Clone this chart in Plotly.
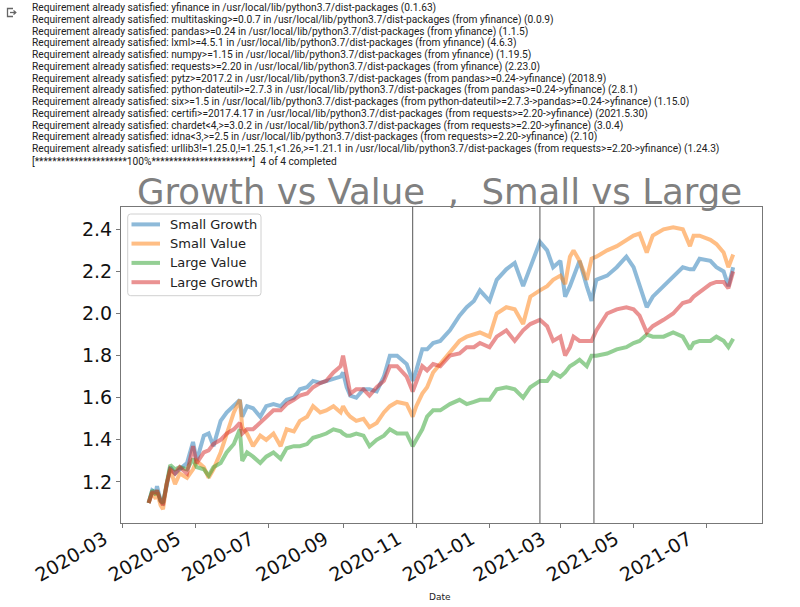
import plotly.graph_objects as go

# ---------------- data ----------------
dates = ["2020-03-23","2020-03-26","2020-03-29","2020-03-30","2020-04-02","2020-04-04","2020-04-07","2020-04-10","2020-04-14","2020-04-18",
         "2020-04-24","2020-04-29","2020-05-02","2020-05-08","2020-05-12","2020-05-16","2020-05-22","2020-05-27","2020-06-02","2020-06-07",
         "2020-06-09","2020-06-13","2020-06-18","2020-06-24","2020-06-29","2020-07-05","2020-07-11","2020-07-16","2020-07-22","2020-07-27",
         "2020-08-02","2020-08-07","2020-08-13","2020-08-18","2020-08-24","2020-08-30","2020-09-01","2020-09-04","2020-09-07","2020-09-12",
         "2020-09-18","2020-09-23","2020-09-29","2020-10-05","2020-10-10","2020-10-16","2020-10-24","2020-10-29","2020-11-01","2020-11-06",
         "2020-11-10","2020-11-15","2020-11-21","2020-11-29","2020-12-07","2020-12-13","2020-12-19","2020-12-24","2021-01-01","2021-01-07",
         "2021-01-15","2021-01-22","2021-01-29","2021-02-04","2021-02-12","2021-02-18","2021-02-23","2021-03-01","2021-03-05","2021-03-09",
         "2021-03-12","2021-03-17","2021-03-23","2021-03-27","2021-03-31","2021-04-09","2021-04-17","2021-04-25","2021-05-01","2021-05-06",
         "2021-05-12","2021-05-17","2021-05-26","2021-06-03","2021-06-11","2021-06-17","2021-06-20","2021-06-25","2021-07-04","2021-07-09",
         "2021-07-15","2021-07-19","2021-07-23"]

small_growth = [1.10,1.16,1.15,1.18,1.11,1.10,1.18,1.27,1.24,1.26,
                1.29,1.39,1.30,1.42,1.43,1.37,1.49,1.53,1.56,1.59,
                1.51,1.56,1.55,1.51,1.56,1.57,1.56,1.59,1.60,1.64,
                1.65,1.68,1.67,1.68,1.69,1.70,1.72,1.65,1.61,1.60,
                1.64,1.64,1.63,1.70,1.80,1.80,1.76,1.68,1.73,1.83,
                1.83,1.86,1.87,1.92,1.99,2.03,2.06,2.11,2.06,2.16,
                2.21,2.24,2.13,2.22,2.34,2.30,2.22,2.25,2.08,2.13,
                2.18,2.25,2.13,2.06,2.16,2.18,2.22,2.27,2.22,2.13,
                2.03,2.08,2.13,2.18,2.22,2.21,2.21,2.26,2.25,2.22,
                2.20,2.13,2.22]

small_value = [1.10,1.15,1.12,1.15,1.09,1.07,1.19,1.26,1.19,1.24,
               1.22,1.26,1.30,1.27,1.22,1.26,1.34,1.43,1.53,1.59,
               1.46,1.43,1.37,1.42,1.40,1.43,1.37,1.45,1.44,1.49,
               1.51,1.56,1.53,1.54,1.56,1.53,1.56,1.53,1.51,1.49,
               1.50,1.46,1.48,1.53,1.56,1.58,1.57,1.51,1.56,1.62,
               1.65,1.72,1.76,1.81,1.87,1.89,1.90,1.91,1.89,2.00,
               2.03,2.02,1.95,2.08,2.11,2.13,2.16,2.18,2.14,2.27,
               2.30,2.25,2.16,2.26,2.27,2.30,2.32,2.35,2.37,2.38,
               2.29,2.37,2.40,2.41,2.40,2.32,2.37,2.37,2.35,2.33,
               2.29,2.22,2.28]

large_value = [1.10,1.16,1.14,1.16,1.11,1.10,1.19,1.28,1.26,1.27,
               1.26,1.31,1.27,1.26,1.23,1.27,1.29,1.34,1.38,1.45,
               1.30,1.34,1.32,1.29,1.32,1.34,1.31,1.36,1.37,1.37,
               1.38,1.41,1.42,1.43,1.45,1.44,1.43,1.42,1.42,1.43,
               1.42,1.37,1.40,1.42,1.45,1.43,1.43,1.37,1.40,1.45,
               1.51,1.54,1.54,1.57,1.59,1.57,1.58,1.59,1.59,1.64,
               1.65,1.64,1.60,1.65,1.68,1.68,1.72,1.70,1.72,1.75,
               1.76,1.78,1.75,1.80,1.80,1.81,1.83,1.84,1.86,1.87,
               1.90,1.89,1.89,1.91,1.89,1.83,1.86,1.87,1.87,1.89,
               1.87,1.84,1.88]

large_growth = [1.10,1.15,1.15,1.16,1.11,1.09,1.19,1.26,1.24,1.27,
                1.24,1.37,1.29,1.34,1.35,1.38,1.40,1.43,1.45,1.48,
                1.43,1.45,1.45,1.48,1.51,1.54,1.54,1.57,1.59,1.61,
                1.62,1.65,1.67,1.68,1.72,1.75,1.80,1.70,1.62,1.64,
                1.64,1.61,1.65,1.68,1.75,1.75,1.70,1.63,1.68,1.75,
                1.73,1.76,1.75,1.80,1.81,1.84,1.84,1.86,1.84,1.89,
                1.92,1.87,1.92,1.95,1.97,1.94,1.87,1.89,1.80,1.84,
                1.89,1.87,1.87,1.87,1.92,2.00,2.02,2.03,2.02,1.99,
                1.91,1.94,1.97,2.00,2.05,2.06,2.08,2.10,2.14,2.15,
                2.15,2.12,2.20]

series_names = ["Small Growth", "Small Value", "Large Value", "Large Growth"]
series_colors = ["#1f77b4", "#ff7f0e", "#2ca02c", "#d62728"]
event_dates = ["2020-10-29", "2021-02-12", "2021-03-29"]

title_text = "Growth vs Value\u00a0\u00a0,\u00a0\u00a0Small vs Large"
xaxis_label = "Date"

pip_lines = [
    "Requirement already satisfied: yfinance in /usr/local/lib/python3.7/dist-packages (0.1.63)",
    "Requirement already satisfied: multitasking>=0.0.7 in /usr/local/lib/python3.7/dist-packages (from yfinance) (0.0.9)",
    "Requirement already satisfied: pandas>=0.24 in /usr/local/lib/python3.7/dist-packages (from yfinance) (1.1.5)",
    "Requirement already satisfied: lxml>=4.5.1 in /usr/local/lib/python3.7/dist-packages (from yfinance) (4.6.3)",
    "Requirement already satisfied: numpy>=1.15 in /usr/local/lib/python3.7/dist-packages (from yfinance) (1.19.5)",
    "Requirement already satisfied: requests>=2.20 in /usr/local/lib/python3.7/dist-packages (from yfinance) (2.23.0)",
    "Requirement already satisfied: pytz>=2017.2 in /usr/local/lib/python3.7/dist-packages (from pandas>=0.24->yfinance) (2018.9)",
    "Requirement already satisfied: python-dateutil>=2.7.3 in /usr/local/lib/python3.7/dist-packages (from pandas>=0.24->yfinance) (2.8.1)",
    "Requirement already satisfied: six>=1.5 in /usr/local/lib/python3.7/dist-packages (from python-dateutil>=2.7.3->pandas>=0.24->yfinance) (1.15.0)",
    "Requirement already satisfied: certifi>=2017.4.17 in /usr/local/lib/python3.7/dist-packages (from requests>=2.20->yfinance) (2021.5.30)",
    "Requirement already satisfied: chardet<4,>=3.0.2 in /usr/local/lib/python3.7/dist-packages (from requests>=2.20->yfinance) (3.0.4)",
    "Requirement already satisfied: idna<3,>=2.5 in /usr/local/lib/python3.7/dist-packages (from requests>=2.20->yfinance) (2.10)",
    "Requirement already satisfied: urllib3!=1.25.0,!=1.25.1,<1.26,>=1.21.1 in /usr/local/lib/python3.7/dist-packages (from requests>=2.20->yfinance) (1.24.3)",
    "[*********************100%***********************]\u00a0\u00a04 of 4 completed",
]

# ---------------- layout geometry ----------------
W, H = 800, 607
PL, PR, PT, PB = 121, 762, 207, 523


def px(x):
    return (x - PL) / (PR - PL)


def py(y):
    return (PB - y) / (PB - PT)


def esc(s):
    return s.replace("&", "&amp;").replace("<", "&lt;").replace(">", "&gt;")


fig = go.Figure()
for name, vals, col in zip(series_names, [small_growth, small_value, large_value, large_growth], series_colors):
    fig.add_trace(go.Scatter(x=dates, y=vals, mode="lines", name=name,
                             line=dict(color=col, width=4), opacity=0.5, showlegend=False))

shapes = []
for d in event_dates:
    shapes.append(dict(type="line", xref="x", yref="paper", x0=d, x1=d, y0=0, y1=1,
                       line=dict(color="#555555", width=1)))

# output icon (Colab)
shapes.append(dict(type="path", xref="paper", yref="paper",
                   path=f"M {px(13)} {py(8.5)} L {px(7.5)} {py(8.5)} L {px(7.5)} {py(16.5)} L {px(13)} {py(16.5)}",
                   line=dict(color="#666666", width=1.3)))
shapes.append(dict(type="line", xref="paper", yref="paper", x0=px(10), x1=px(15.5), y0=py(12.5), y1=py(12.5),
                   line=dict(color="#666666", width=1.3)))
shapes.append(dict(type="path", xref="paper", yref="paper",
                   path=f"M {px(13.5)} {py(10.5)} L {px(15.8)} {py(12.5)} L {px(13.5)} {py(14.5)}",
                   line=dict(color="#666666", width=1.3)))

# legend box (matplotlib style, rounded)
lx0, lx1, ly0, ly1, r = 127.7, 261.0, 214.0, 295.7, 3.0
rx, ry = r / (PR - PL), r / (PB - PT)
X0, X1, Y0, Y1 = px(lx0), px(lx1), py(ly0), py(ly1)
legend_path = (f"M {X0+rx} {Y0} L {X1-rx} {Y0} Q {X1} {Y0} {X1} {Y0-ry} "
               f"L {X1} {Y1+ry} Q {X1} {Y1} {X1-rx} {Y1} L {X0+rx} {Y1} Q {X0} {Y1} {X0} {Y1+ry} "
               f"L {X0} {Y0-ry} Q {X0} {Y0} {X0+rx} {Y0} Z")
shapes.append(dict(type="path", xref="paper", yref="paper", path=legend_path,
                   fillcolor="rgba(255,255,255,0.8)", line=dict(color="#d0d0d0", width=1)))

annotations = []
legend_rows = [224.4, 243.6, 262.9, 282.2]
for name, col, yy in zip(series_names, series_colors, legend_rows):
    shapes.append(dict(type="line", xref="paper", yref="paper", x0=px(131.5), x1=px(160), y0=py(yy), y1=py(yy),
                       line=dict(color=col, width=4), opacity=0.5))
    annotations.append(dict(text=name, xref="paper", yref="paper", x=px(168), y=py(yy),
                            xanchor="left", yanchor="middle", showarrow=False,
                            font=dict(family="DejaVu Sans", size=13, color="#222222")))

for i, line in enumerate(pip_lines):
    annotations.append(dict(text=esc(line), xref="paper", yref="paper",
                            x=px(30), y=py(8 + i * 11.77), xanchor="left", yanchor="middle",
                            showarrow=False, font=dict(family="Roboto", size=10.2, color="#212121")))

annotations.append(dict(text=title_text, xref="paper", yref="paper", x=px(439), y=py(191),
                        xanchor="center", yanchor="middle", showarrow=False,
                        font=dict(family="DejaVu Sans", size=35.5, color="#808080")))
annotations.append(dict(text=xaxis_label, xref="paper", yref="paper", x=px(440), y=py(597),
                        xanchor="center", yanchor="middle", showarrow=False,
                        font=dict(family="DejaVu Sans", size=9, color="#222222")))

fig.update_layout(
    width=W, height=H,
    margin=dict(l=PL, r=W - PR, t=PT, b=H - PB, pad=0),
    paper_bgcolor="white", plot_bgcolor="white",
    showlegend=False,
    shapes=shapes,
    annotations=annotations,
    xaxis=dict(type="date", range=["2020-02-29", "2021-08-16"], tickformat="%Y-%m", dtick="M2",
               tick0="2020-03-01", tickangle=-30, ticklabelshift=-18, ticklabelstandoff=-7,
               showgrid=False, zeroline=False,
               showline=True, mirror=True, linecolor="#777777", linewidth=1,
               ticks="outside", ticklen=4, tickcolor="#777777",
               tickfont=dict(family="DejaVu Sans", size=19, color="#111111")),
    yaxis=dict(range=[1.005, 2.506], tickvals=[1.2, 1.4, 1.6, 1.8, 2.0, 2.2, 2.4],
               ticktext=["1.2", "1.4", "1.6", "1.8", "2.0", "2.2", "2.4"],
               showgrid=False, zeroline=False,
               showline=True, mirror=True, linecolor="#777777", linewidth=1,
               ticks="outside", ticklen=4, tickcolor="#777777",
               tickfont=dict(family="DejaVu Sans", size=19, color="#111111")),
)

fig.write_html("out.html")
